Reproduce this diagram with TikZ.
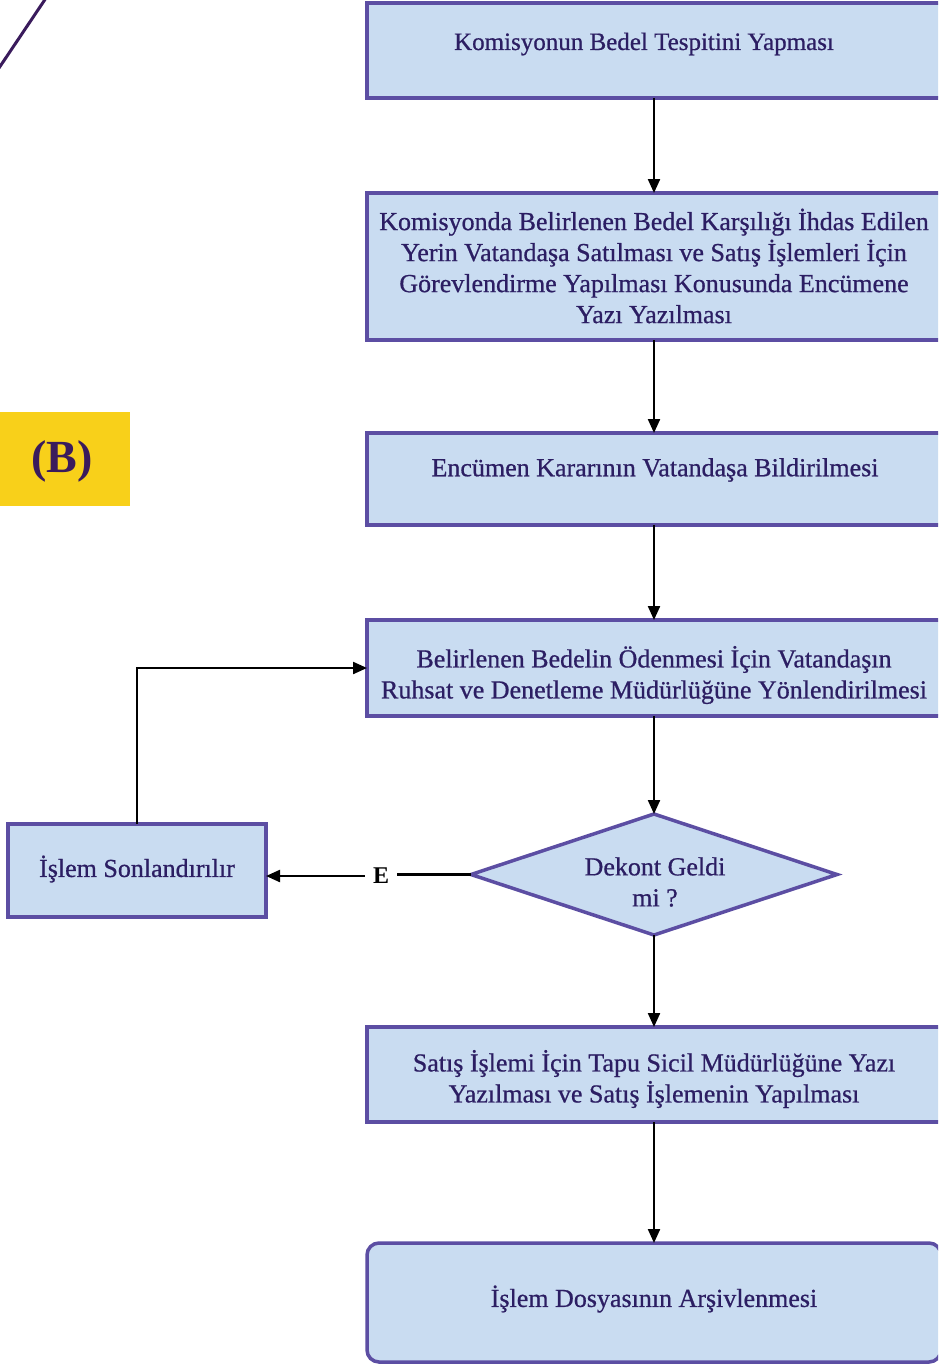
\documentclass[tikz,border=0pt]{standalone}
\usepackage{fontspec}
\setmainfont{Liberation Serif}
\newfontfamily\boxfont[FakeBold=0.7]{Liberation Serif}
\usetikzlibrary{shapes.geometric,arrows.meta}
\definecolor{boxfill}{HTML}{C9DCF1}
\definecolor{boxline}{HTML}{5C4EA3}
\definecolor{boxtext}{HTML}{2C1E63}
\definecolor{tagyellow}{HTML}{F8D01A}
\definecolor{tagtext}{HTML}{3A1B5C}
\tikzset{
  stepbox/.style={draw=boxline, fill=boxfill, line width=3.5pt, rectangle,
    inner sep=0pt, outer sep=0pt},
  endbox/.style={stepbox, rounded corners=12pt},
  decbox/.style={draw=boxline, fill=boxfill, line width=3.5pt, diamond,
    inner sep=0pt, outer sep=0pt},
  steptext/.style={text=boxtext, align=center, inner sep=0pt,
    font=\boxfont\fontsize{26}{31}\selectfont},
  flow/.style={draw=black, line width=2.2pt,
    -{Triangle[length=14pt,width=12pt]}},
  plain/.style={draw=black, line width=2.2pt},
}
\begin{document}
\begin{tikzpicture}[x=1pt,y=-1pt]
\useasboundingbox (0,0) rectangle (938,1365);
\clip (0,0) rectangle (938,1365);
\fill[white] (0,0) rectangle (938,1365);

% corner stroke
\coordinate (s1) at (46,-2);
\coordinate (s2) at (-1,68);
\draw[color=tagtext, line width=3pt] (s1) -- (s2);

% section tag
\node[fill=tagyellow, minimum width=131pt, minimum height=94pt, inner sep=0pt,
  anchor=north west] (tag) at (-1,412) {};
\node[text=tagtext, font=\fontsize{46}{50}\selectfont\bfseries] (tagl)
  at (62,461) {(B)};

% process boxes
\node[stepbox, minimum width=574pt, minimum height=95pt] (b1) at (654,50.5) {};
\node[stepbox, minimum width=574pt, minimum height=147pt] (b2) at (654,266.5) {};
\node[stepbox, minimum width=574pt, minimum height=92pt] (b3) at (654,479) {};
\node[stepbox, minimum width=574pt, minimum height=96pt] (b4) at (654,668) {};
\node[decbox, minimum width=366pt, minimum height=121pt] (d1) at (654,874.5) {};
\node[stepbox, minimum width=258pt, minimum height=93pt] (b5) at (137,870.5) {};
\node[stepbox, minimum width=574pt, minimum height=95pt] (b6) at (654,1074.5) {};
\node[endbox, minimum width=574pt, minimum height=119pt] (b7) at (654,1302.5) {};

% box texts
\node[steptext, font=\boxfont\fontsize{25}{31}\selectfont] (t1) at (644,44)
  {Komisyonun Bedel Tespitini Yapması};
\node[steptext] (t2) at (654,266)
  {Komisyonda Belirlenen Bedel Karşılığı İhdas Edilen\\
   Yerin Vatandaşa Satılması ve Satış İşlemleri İçin\\
   Görevlendirme Yapılması Konusunda Encümene\\
   Yazı Yazılması};
\node[steptext] (t3) at (655,470)
  {Encümen Kararının Vatandaşa Bildirilmesi};
\node[steptext] (t4) at (654,675)
  {Belirlenen Bedelin Ödenmesi İçin Vatandaşın\\
   Ruhsat ve Denetleme Müdürlüğüne Yönlendirilmesi};
\node[steptext] (td) at (655,882)
  {Dekont Geldi\\ mi ?};
\node[steptext] (t5) at (137,869)
  {İşlem Sonlandırılır};
\node[steptext] (t6) at (654,1079)
  {Satış İşlemi İçin Tapu Sicil Müdürlüğüne Yazı\\
   Yazılması ve Satış İşlemenin Yapılması};
\node[steptext] (t7) at (654,1299)
  {İşlem Dosyasının Arşivlenmesi};

% connectors
\draw[flow] (b1.south) -- (b2.north);
\draw[flow] (b2.south) -- (b3.north);
\draw[flow] (b3.south) -- (b4.north);
\draw[flow] (b4.south) -- (d1.north);
\draw[flow] (d1.south) -- (b6.north);
\draw[flow] (b6.south) -- (b7.north);

% "E" branch back to the payment step
\node[font=\fontsize{24}{28}\selectfont\bfseries, inner sep=8pt] (e) at (381,876) {E};
\draw[plain] (d1.west) -- (d1.west -| e.east);
\draw[flow] (e.west) -- (e.west -| b5.east);
\draw[flow] (b5.north) |- (b4.west);
\end{tikzpicture}
\end{document}
